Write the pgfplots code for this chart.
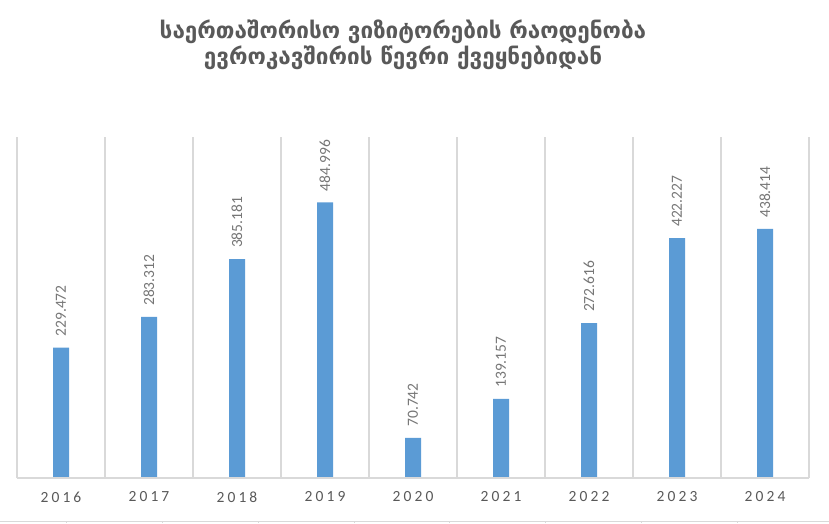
\documentclass[border=0pt]{standalone}
\usepackage{pgfplots}
\pgfplotsset{compat=1.18}
\usepackage{pgfplotstable}
\usepackage{fontspec}
\setmainfont{Carlito}
\newfontfamily\geofont{DejaVu Sans}
\newfontfamily\spacedfont{Carlito}[LetterSpace=20]

\definecolor{barblue}{HTML}{5B9BD5}
\definecolor{gridgray}{HTML}{D9D9D9}
\definecolor{textgray}{HTML}{595959}
\definecolor{labelgray}{HTML}{767676}

% International visitors from EU member states (thousands)
\pgfplotstableread{
idx year visitors
0 2016 229.472
1 2017 283.312
2 2018 385.181
3 2019 484.996
4 2020 70.742
5 2021 139.157
6 2022 272.616
7 2023 422.227
8 2024 438.414
}\visitors

\begin{document}
\begin{tikzpicture}[x=1pt,y=1pt]
\useasboundingbox (0,0) rectangle (829,523);

% title
\node[align=center, text=textgray, font=\geofont\bfseries\fontsize{22.5}{26}\selectfont]
  at (403,478) {საერთაშორისო ვიზიტორების რაოდენობა\\ევროკავშირის წევრი ქვეყნებიდან};

\begin{axis}[
  at={(17pt,45pt)}, anchor=south west,
  width=792pt, height=341pt, scale only axis,
  xmin=-0.5, xmax=8.5, ymin=0, ymax=600,
  axis line style={draw=none},
  ytick=\empty,
  xtick={0,...,8},
  xticklabels={2016,2017,2018,2019,2020,2021,2022,2023,2024},
  major tick length=0pt,
  minor xtick={-0.5,0.5,...,8.5},
  minor tick length=0pt,
  xminorgrids,
  minor grid style={gridgray, line width=1.3pt},
  xticklabel style={text=textgray, font=\spacedfont\fontsize{15.5}{16}\selectfont, yshift=-10pt},
  ybar, bar width=16pt,
  nodes near coords,
  nodes near coords style={
    /pgf/number format/.cd, fixed, fixed zerofill, precision=3, assume math mode=true, /tikz/.cd,
    rotate=90, anchor=west, inner sep=0pt, inner xsep=11pt,
    text=labelgray, font=\fontsize{15.5}{16}\selectfont},
  clip=false,
]
\addplot[fill=barblue, draw=none] table[x=idx, y=visitors] {\visitors};
\draw[gridgray, line width=1.3pt] (axis cs:-0.5,0) -- (axis cs:8.5,0);
\end{axis}

% edge of the table frame below the chart
\draw[gridgray, line width=1pt] (0,1.5) -- (829,1.5);
\foreach \xx in {66,162,258,354,449,545,641,737}
  \draw[gridgray, line width=1pt] (\xx,0) -- (\xx,1.5);
\end{tikzpicture}
\end{document}
